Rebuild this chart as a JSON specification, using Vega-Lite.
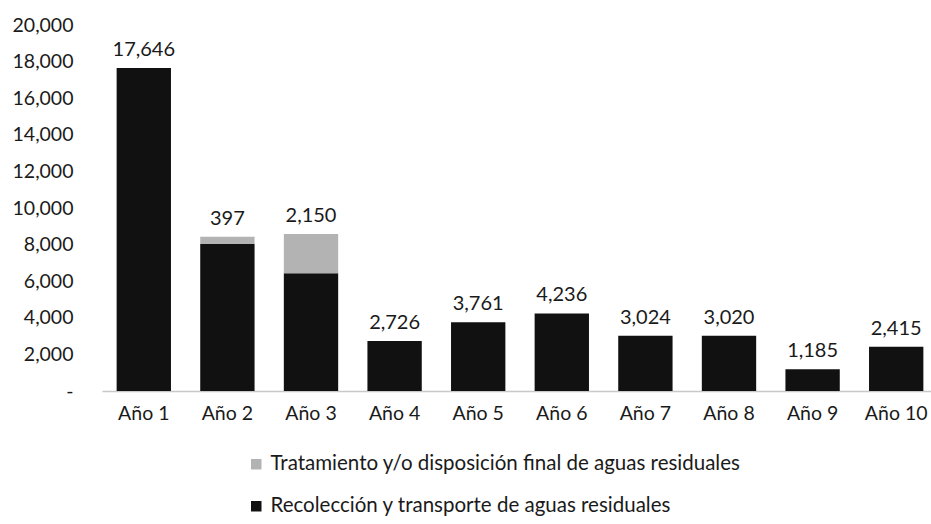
{
  "$schema": "https://vega.github.io/schema/vega-lite/v6.json",
  "autosize": {"type": "none"},
  "width": 836,
  "height": 366,
  "padding": {"left": 102, "top": 25, "right": 0, "bottom": 133},
  "background": "white",
  "config": {
    "view": {"stroke": null},
    "font": "Lato",
    "axis": {"labelFont": "Lato", "labelFontSize": 19.5, "labelColor": "#1a1a1a"},
    "axisY": {"labelOverlap": false},
    "legend": {"labelFont": "Lato", "labelFontSize": 20.5, "labelColor": "#1a1a1a"}
  },
  "data": {
    "values": [
      {"anio": "Año 1", "serie": "Recolección y transporte de aguas residuales", "valor": 17646},
      {"anio": "Año 2", "serie": "Recolección y transporte de aguas residuales", "valor": 8030},
      {"anio": "Año 2", "serie": "Tratamiento y/o disposición final de aguas residuales", "valor": 397},
      {"anio": "Año 3", "serie": "Recolección y transporte de aguas residuales", "valor": 6430},
      {"anio": "Año 3", "serie": "Tratamiento y/o disposición final de aguas residuales", "valor": 2150},
      {"anio": "Año 4", "serie": "Recolección y transporte de aguas residuales", "valor": 2726},
      {"anio": "Año 5", "serie": "Recolección y transporte de aguas residuales", "valor": 3761},
      {"anio": "Año 6", "serie": "Recolección y transporte de aguas residuales", "valor": 4236},
      {"anio": "Año 7", "serie": "Recolección y transporte de aguas residuales", "valor": 3024},
      {"anio": "Año 8", "serie": "Recolección y transporte de aguas residuales", "valor": 3020},
      {"anio": "Año 9", "serie": "Recolección y transporte de aguas residuales", "valor": 1185},
      {"anio": "Año 10", "serie": "Recolección y transporte de aguas residuales", "valor": 2415}
    ]
  },
  "transform": [
    {"stack": "valor", "groupby": ["anio"], "sort": [{"field": "serie", "order": "ascending"}], "as": ["v0", "v1"]}
  ],
  "encoding": {
    "x": {
      "field": "anio", "type": "nominal", "sort": null,
      "scale": {"paddingInner": 0.35, "paddingOuter": 0.175},
      "axis": {"title": null, "labelAngle": 0, "ticks": false, "labelPadding": 13, "domainColor": "#c8c8c8", "domainWidth": 1.5}
    },
    "y": {
      "field": "v1", "type": "quantitative",
      "scale": {"domain": [0, 20000], "nice": false},
      "axis": {
        "title": null, "grid": false, "domain": false, "ticks": false,
        "values": [0, 2000, 4000, 6000, 8000, 10000, 12000, 14000, 16000, 18000, 20000],
        "labelOverlap": false,
        "labelPadding": 29,
        "labelExpr": "datum.value == 0 ? '-    ' : format(datum.value, ',')"
      }
    }
  },
  "layer": [
    {
      "mark": {"type": "bar"},
      "encoding": {
        "y2": {"field": "v0"},
        "color": {
          "field": "serie", "type": "nominal",
          "scale": {
            "domain": ["Tratamiento y/o disposición final de aguas residuales", "Recolección y transporte de aguas residuales"],
            "range": ["#b3b3b3", "#111111"]
          },
          "legend": {
            "title": null, "orient": "none", "direction": "vertical",
            "legendX": 144, "legendY": 429,
            "symbolType": "square", "symbolSize": 110, "symbolStrokeWidth": 0,
            "rowPadding": 21, "labelOffset": 4, "labelLimit": 800
          }
        }
      }
    },
    {
      "transform": [
        {"filter": "datum.serie == 'Tratamiento y/o disposición final de aguas residuales' || (datum.anio != 'Año 2' && datum.anio != 'Año 3')"}
      ],
      "mark": {"type": "text", "baseline": "bottom", "dy": -8, "fontSize": 20, "color": "#1a1a1a"},
      "encoding": {
        "text": {"field": "valor", "type": "quantitative", "format": ","}
      }
    }
  ]
}
